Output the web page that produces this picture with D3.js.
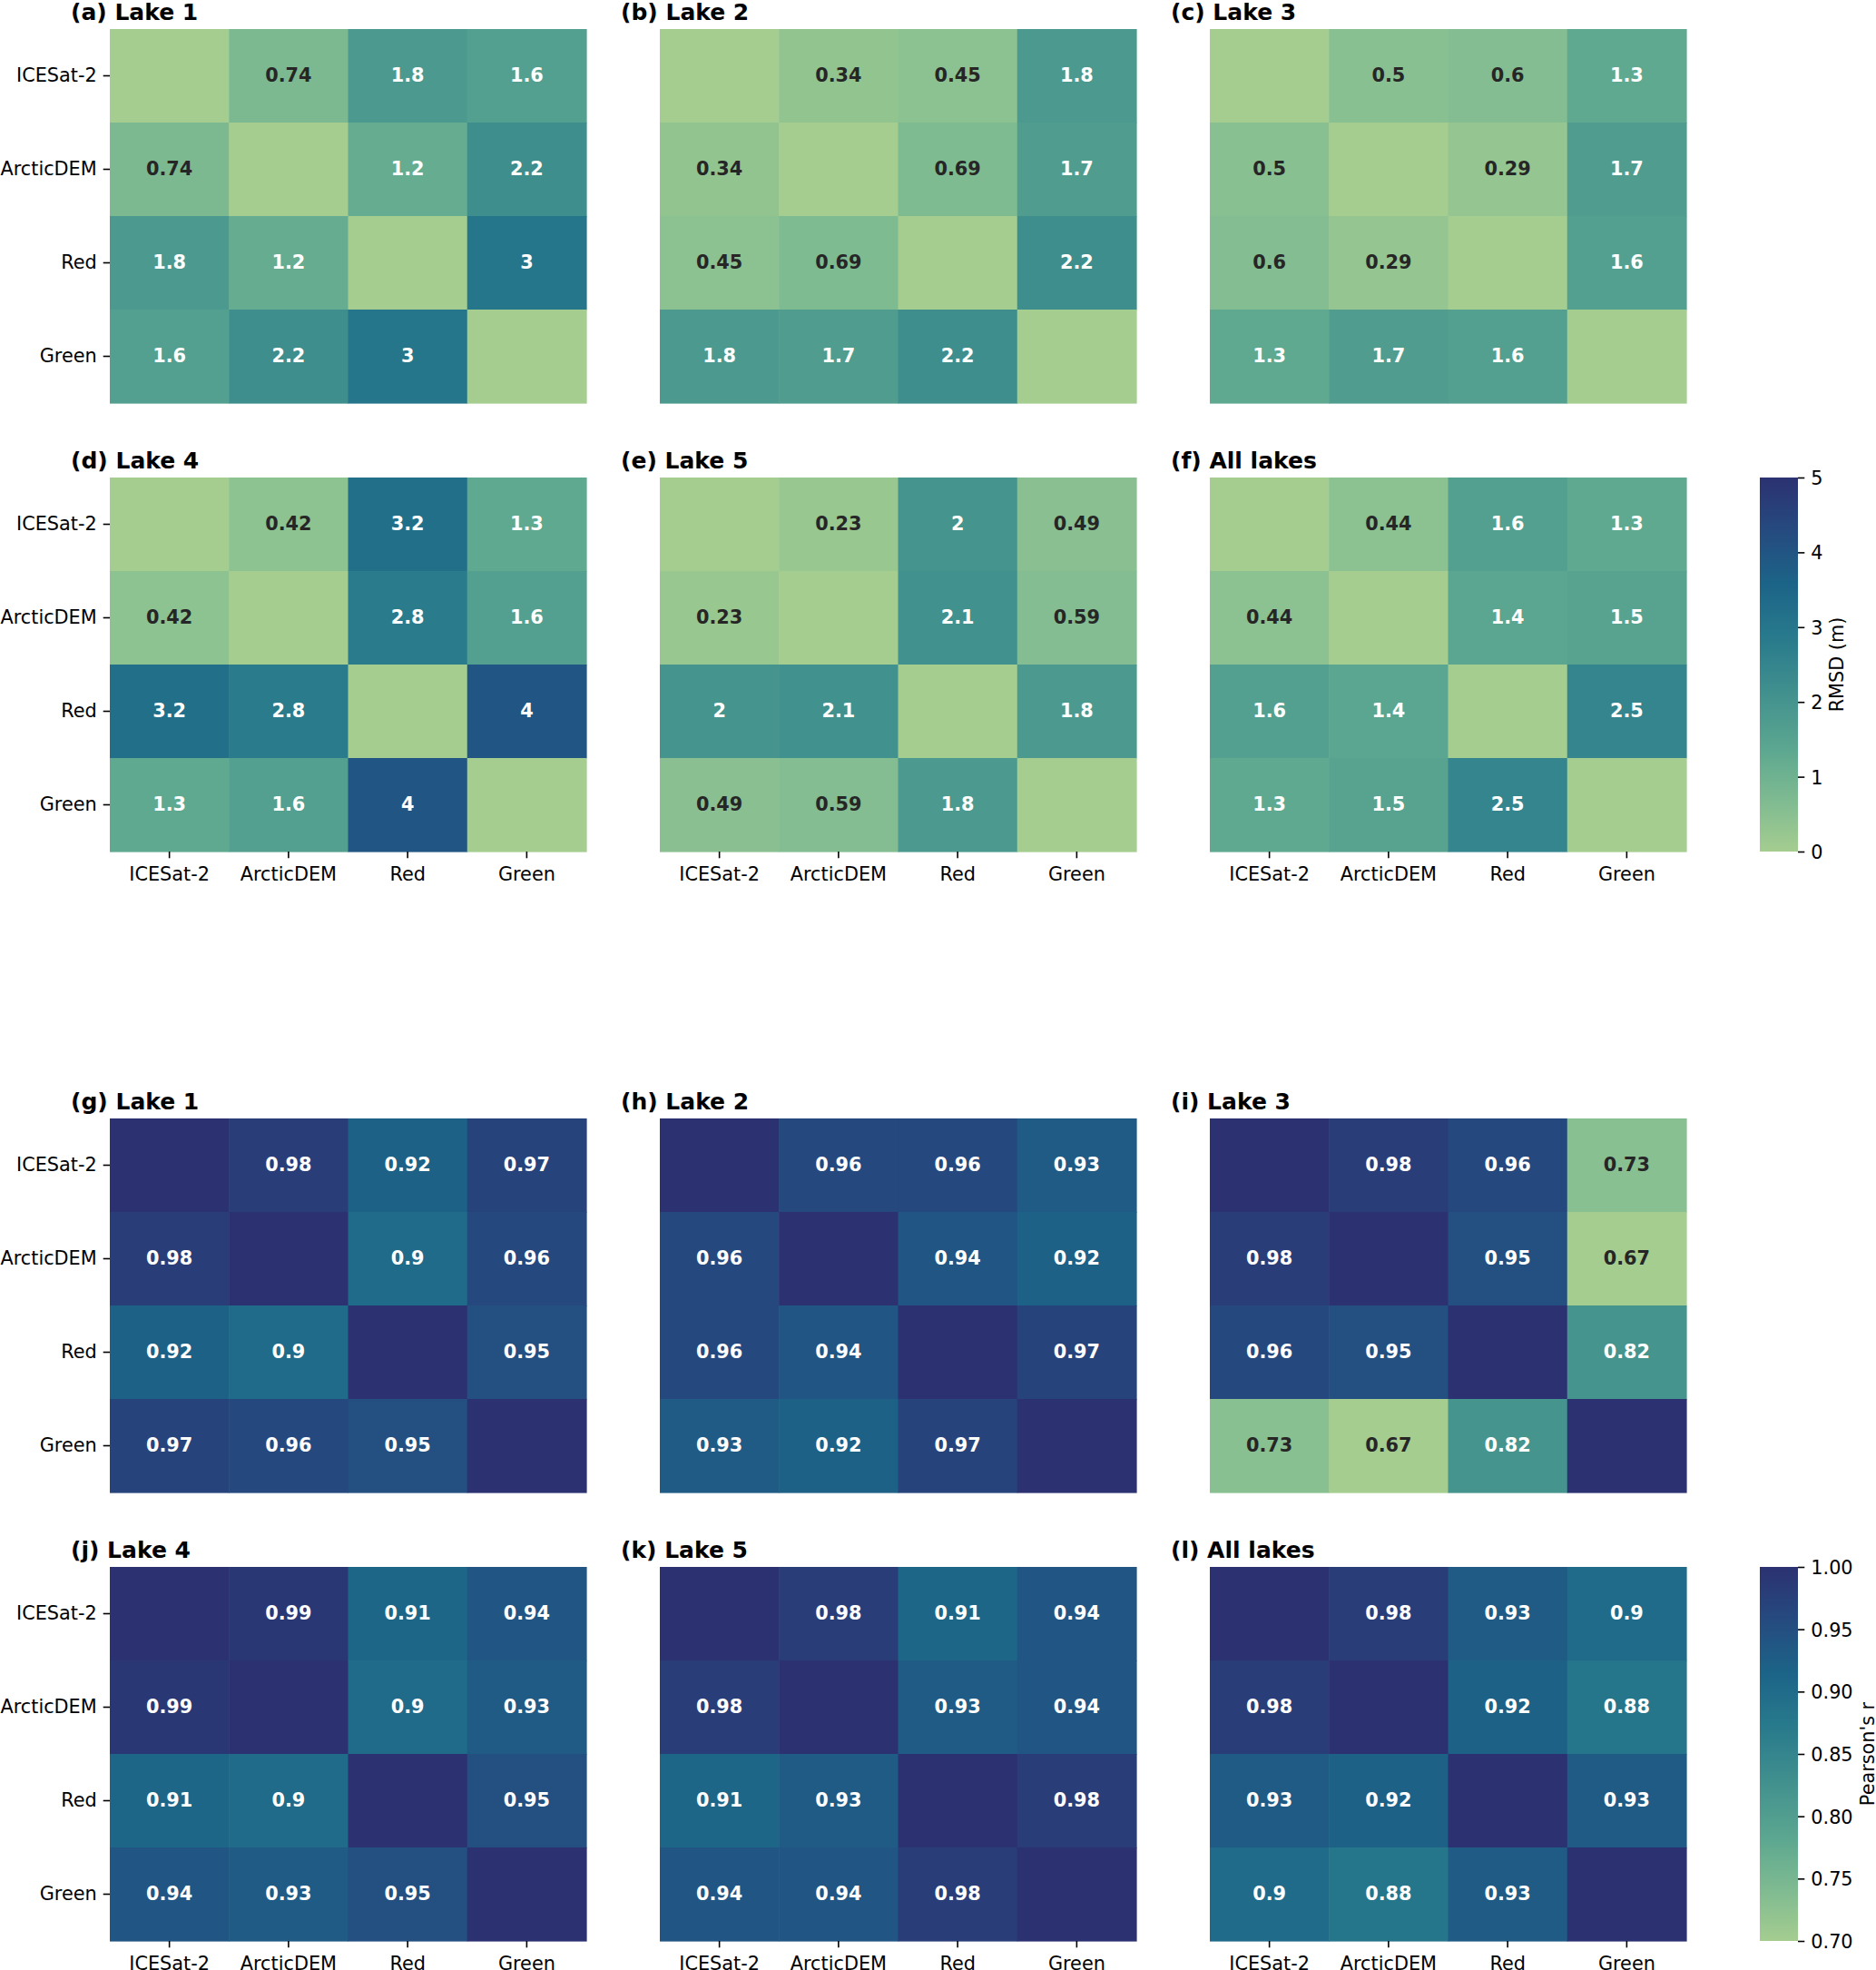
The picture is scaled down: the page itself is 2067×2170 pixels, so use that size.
<!DOCTYPE html>
<html>
<head>
<meta charset="utf-8">
<script src="https://cdn.jsdelivr.net/npm/d3@7"></script>
<style>
  html, body { margin: 0; padding: 0; background: #ffffff; }
  svg { display: block; font-family: "DejaVu Sans", sans-serif; }
</style>
</head>
<body>
<svg id="chart" width="2067" height="2170"></svg>
<script>
// ---------------- DATA ----------------
const labels = ["ICESat-2", "ArcticDEM", "Red", "Green"];

// RMSD (m) matrices
const rmsdLake1 = [[0, 0.74, 1.8, 1.6], [0.74, 0, 1.2, 2.2], [1.8, 1.2, 0, 3], [1.6, 2.2, 3, 0]];
const rmsdLake2 = [[0, 0.34, 0.45, 1.8], [0.34, 0, 0.69, 1.7], [0.45, 0.69, 0, 2.2], [1.8, 1.7, 2.2, 0]];
const rmsdLake3 = [[0, 0.5, 0.6, 1.3], [0.5, 0, 0.29, 1.7], [0.6, 0.29, 0, 1.6], [1.3, 1.7, 1.6, 0]];
const rmsdLake4 = [[0, 0.42, 3.2, 1.3], [0.42, 0, 2.8, 1.6], [3.2, 2.8, 0, 4], [1.3, 1.6, 4, 0]];
const rmsdLake5 = [[0, 0.23, 2, 0.49], [0.23, 0, 2.1, 0.59], [2, 2.1, 0, 1.8], [0.49, 0.59, 1.8, 0]];
const rmsdAll   = [[0, 0.44, 1.6, 1.3], [0.44, 0, 1.4, 1.5], [1.6, 1.4, 0, 2.5], [1.3, 1.5, 2.5, 0]];

// Pearson's r matrices
const rLake1 = [[1, 0.98, 0.92, 0.97], [0.98, 1, 0.9, 0.96], [0.92, 0.9, 1, 0.95], [0.97, 0.96, 0.95, 1]];
const rLake2 = [[1, 0.96, 0.96, 0.93], [0.96, 1, 0.94, 0.92], [0.96, 0.94, 1, 0.97], [0.93, 0.92, 0.97, 1]];
const rLake3 = [[1, 0.98, 0.96, 0.73], [0.98, 1, 0.95, 0.67], [0.96, 0.95, 1, 0.82], [0.73, 0.67, 0.82, 1]];
const rLake4 = [[1, 0.99, 0.91, 0.94], [0.99, 1, 0.9, 0.93], [0.91, 0.9, 1, 0.95], [0.94, 0.93, 0.95, 1]];
const rLake5 = [[1, 0.98, 0.91, 0.94], [0.98, 1, 0.93, 0.94], [0.91, 0.93, 1, 0.98], [0.94, 0.94, 0.98, 1]];
const rAll   = [[1, 0.98, 0.93, 0.9], [0.98, 1, 0.92, 0.88], [0.93, 0.92, 1, 0.93], [0.9, 0.88, 0.93, 1]];

const rmsdTitles = ["(a) Lake 1", "(b) Lake 2", "(c) Lake 3", "(d) Lake 4", "(e) Lake 5", "(f) All lakes"];
const rTitles    = ["(g) Lake 1", "(h) Lake 2", "(i) Lake 3", "(j) Lake 4", "(k) Lake 5", "(l) All lakes"];

const rmsdTicks = [0, 1, 2, 3, 4, 5];
const rTicks = [0.70, 0.75, 0.80, 0.85, 0.90, 0.95, 1.00];
const rmsdDomain = [0, 5];
const rDomain = [0.70, 1.00];

// seaborn "crest" colormap samples
const crestStops = ["#a5cd90", "#7dba91", "#59a590", "#40908e", "#287a8c", "#1c6488", "#254b7f", "#2c3172"];

// ---------------- LAYOUT ----------------
const svg = d3.select("#chart");
const colLefts = [121, 727, 1333];
const panelW = 525, panelH = 412;
const rowTops = [32, 526, 1232, 1726];
const cbX = 1939, cbW = 42;
const FS = 20.8, TITLE_FS = 25, TICK = 7.3;

const crest = d3.scaleLinear()
  .domain(crestStops.map((_, i) => i / (crestStops.length - 1)))
  .range(crestStops)
  .interpolate(d3.interpolateRgb)
  .clamp(true);

function relLum(c) {
  const rgb = d3.rgb(c);
  const f = v => { v /= 255; return v <= 0.03928 ? v / 12.92 : Math.pow((v + 0.055) / 1.055, 2.4); };
  return 0.2126 * f(rgb.r) + 0.7152 * f(rgb.g) + 0.0722 * f(rgb.b);
}

function heatmap(matrix, title, left, top, domain, showY, showX) {
  const g = svg.append("g").attr("transform", `translate(${left},${top})`);
  const x = d3.scaleBand().domain(labels).range([0, panelW]).padding(0);
  const y = d3.scaleBand().domain(labels).range([0, panelH]).padding(0);
  const norm = d3.scaleLinear().domain(domain).range([0, 1]).clamp(true);
  const cells = [];
  matrix.forEach((row, i) => row.forEach((v, j) => cells.push({ i, j, v })));

  g.selectAll("rect.cell").data(cells).join("rect")
    .attr("class", "cell")
    .attr("x", d => x(labels[d.j]))
    .attr("y", d => y(labels[d.i]))
    .attr("width", x.bandwidth() + 0.6)
    .attr("height", y.bandwidth() + 0.6)
    .attr("fill", d => crest(norm(d.v)));

  g.selectAll("text.annot").data(cells.filter(d => d.i !== d.j)).join("text")
    .attr("class", "annot")
    .attr("x", d => x(labels[d.j]) + x.bandwidth() / 2)
    .attr("y", d => y(labels[d.i]) + y.bandwidth() / 2 + 6.2)
    .attr("text-anchor", "middle")
    .attr("font-size", FS)
    .attr("font-weight", "bold")
    .attr("fill", d => relLum(crest(norm(d.v))) > 0.408 ? "#262626" : "#ffffff")
    .text(d => String(d.v));

  g.append("text")
    .attr("x", -43)
    .attr("y", -10.5)
    .attr("font-size", TITLE_FS)
    .attr("font-weight", "bold")
    .attr("fill", "#000")
    .text(title);

  if (showY) {
    const ay = g.append("g").call(d3.axisLeft(y).tickSize(TICK).tickPadding(7));
    ay.select(".domain").remove();
    ay.selectAll("line").attr("stroke", "#000").attr("stroke-width", 1.6);
    ay.selectAll("text").attr("font-size", FS).attr("font-family", "DejaVu Sans").attr("fill", "#000").attr("dy", "0.29em");
  }
  if (showX) {
    const ax = g.append("g").attr("transform", `translate(0,${panelH})`)
      .call(d3.axisBottom(x).tickSize(TICK).tickPadding(7));
    ax.select(".domain").remove();
    ax.selectAll("line").attr("stroke", "#000").attr("stroke-width", 1.6);
    ax.selectAll("text").attr("font-size", FS).attr("font-family", "DejaVu Sans").attr("fill", "#000").attr("dy", "0.84em");
  }
}

function colorbar(top, domain, ticks, fmt, label, labelX, id) {
  const sc = d3.scaleLinear().domain(domain).range([top + panelH, top]);
  const defs = svg.append("defs");
  const grad = defs.append("linearGradient").attr("id", id)
    .attr("x1", 0).attr("y1", 1).attr("x2", 0).attr("y2", 0);
  d3.range(0, 1.0001, 0.02).forEach(t => {
    grad.append("stop").attr("offset", t).attr("stop-color", crest(t));
  });
  svg.append("rect").attr("x", cbX).attr("y", top).attr("width", cbW).attr("height", panelH)
    .attr("fill", `url(#${id})`);
  const ax = svg.append("g").attr("transform", `translate(${cbX + cbW},0)`)
    .call(d3.axisRight(sc).tickValues(ticks).tickFormat(fmt).tickSize(TICK).tickPadding(7));
  ax.select(".domain").remove();
  ax.selectAll("line").attr("stroke", "#000").attr("stroke-width", 1.6);
  ax.selectAll("text").attr("font-size", FS).attr("font-family", "DejaVu Sans").attr("fill", "#000").attr("dy", "0.36em");
  svg.append("text")
    .attr("transform", `translate(${labelX},${top + panelH / 2}) rotate(-90)`)
    .attr("text-anchor", "middle")
    .attr("font-size", FS)
    .attr("fill", "#000")
    .text(label);
}

const rmsdMats = [rmsdLake1, rmsdLake2, rmsdLake3, rmsdLake4, rmsdLake5, rmsdAll];
const rMats = [rLake1, rLake2, rLake3, rLake4, rLake5, rAll];

rmsdMats.forEach((m, k) => {
  const r = Math.floor(k / 3), c = k % 3;
  heatmap(m, rmsdTitles[k], colLefts[c], rowTops[r], rmsdDomain, c === 0, r === 1);
});
rMats.forEach((m, k) => {
  const r = Math.floor(k / 3), c = k % 3;
  heatmap(m, rTitles[k], colLefts[c], rowTops[2 + r], rDomain, c === 0, r === 1);
});

colorbar(rowTops[1], rmsdDomain, rmsdTicks, d3.format("d"), "RMSD (m)", 2031, "gradRmsd");
colorbar(rowTops[3], rDomain, rTicks, d3.format(".2f"), "Pearson's r", 2065, "gradR");
</script>
</body>
</html>
